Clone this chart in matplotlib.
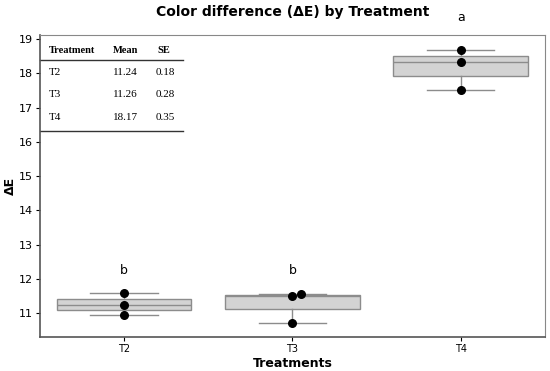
import matplotlib.pyplot as plt

# data
treatments = ['T2', 'T3', 'T4']
values = {
    'T2': [10.94, 11.23, 11.58],
    'T3': [10.71, 11.50, 11.55],
    'T4': [17.50, 18.34, 18.68],
}
letters = ['b', 'b', 'a']
letter_y = [12.25, 12.25, 19.62]
means = ['11.24', '11.26', '18.17']
ses = ['0.18', '0.28', '0.35']

fig = plt.figure(figsize=(5.5, 3.71), dpi=100)
ax = fig.add_axes([0.0727, 0.0916, 0.918, 0.814])

pos = list(range(len(treatments)))
ax.boxplot([values[t] for t in treatments], positions=pos, widths=0.8,
           patch_artist=True, showfliers=False,
           boxprops=dict(facecolor='#d3d3d3', edgecolor='#8c8c8c', linewidth=1),
           medianprops=dict(color='#8c8c8c', linewidth=1),
           whiskerprops=dict(color='#8c8c8c', linewidth=1),
           capprops=dict(color='#8c8c8c', linewidth=1))

# points (small horizontal jitter)
offsets = {'T2': [0, 0, 0], 'T3': [0, 0, 0.05], 'T4': [0, 0, 0]}
for i, t in enumerate(treatments):
    xs = [i + o for o in offsets[t]]
    ax.scatter(xs, values[t], color='black', s=30, zorder=5)

for i, (l, y) in enumerate(zip(letters, letter_y)):
    ax.text(i, y, l, ha='center', va='center', fontsize=9, clip_on=False)

ax.set_xlim(-0.5, 2.5)
ax.set_ylim(10.3, 19.12)
ax.set_xticks(pos)
ax.set_xticklabels(treatments, fontsize=7)
ax.set_yticks(range(11, 20))
ax.tick_params(axis='y', labelsize=8, length=3, pad=2)
ax.tick_params(axis='x', length=3, pad=2)
for s in ['top', 'right']:
    ax.spines[s].set_color('#888888')
for s in ['left', 'bottom']:
    ax.spines[s].set_color('#555555')
    ax.spines[s].set_linewidth(1.2)

ax.set_xlabel('Treatments', fontweight='bold', fontsize=9, labelpad=2)
ax.set_ylabel('ΔE', fontweight='bold', fontsize=9)
ax.yaxis.set_label_coords(-0.045, 0.5)
ax.set_title('Color difference (ΔE) by Treatment', fontweight='bold', fontsize=10, pad=14)

# summary table
serif = 'Liberation Serif'
cols_x = [-0.45, -0.065, 0.2]
head_y = 18.68
ax.text(cols_x[0], head_y, 'Treatment', fontsize=7.5, family=serif, fontweight='bold', va='center')
ax.text(cols_x[1], head_y, 'Mean', fontsize=7.5, family=serif, fontweight='bold', va='center')
ax.text(cols_x[2], head_y, 'SE', fontsize=7.5, family=serif, fontweight='bold', va='center')
ax.plot([-0.5, 0.35], [18.38, 18.38], color='#333333', lw=1, clip_on=False)
for k, t in enumerate(treatments):
    y = 18.03 - k * 0.66
    ax.text(cols_x[0], y, t, fontsize=8, family=serif, va='center')
    ax.text(cols_x[1], y, means[k], fontsize=8, family=serif, va='center')
    ax.text(cols_x[2] - 0.01, y, ses[k], fontsize=8, family=serif, va='center')
ax.plot([-0.5, 0.35], [16.32, 16.32], color='#333333', lw=1)

fig.savefig('out.png', dpi=100)
